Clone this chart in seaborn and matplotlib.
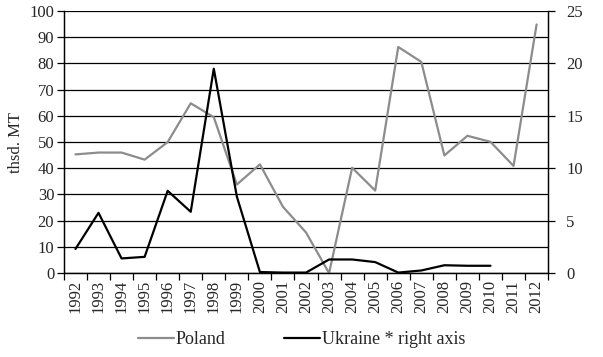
import numpy as np
import pandas as pd
import seaborn as sns
import matplotlib
matplotlib.use("Agg")
import matplotlib.pyplot as plt

years = [str(y) for y in range(1992, 2013)]
poland = [45.3, 46.0, 46.0, 43.3, 50.0, 64.8, 59.5, 33.8, 41.5, 25.3, 15.5, 0.0,
          40.2, 31.5, 86.3, 80.6, 44.9, 52.4, 50.1, 40.9, 94.9]
ukraine = [2.3, 5.75, 1.4, 1.55, 7.85, 5.85, 19.5, 7.3, 0.1, 0.05, 0.05, 1.3,
           1.3, 1.05, 0.05, 0.25, 0.75, 0.7, 0.7, np.nan, np.nan]

sns.set_style("white")
plt.rcParams['font.family'] = ['Liberation Serif', 'DejaVu Serif']

df = pd.DataFrame({"pos": np.arange(len(years)), "Poland": poland, "Ukraine": ukraine})

fig = plt.figure(figsize=(6.03, 3.57), dpi=100)
ax = fig.add_axes([0.106, 0.235, 0.803, 0.734])
ax2 = ax.twinx()

# grid first so lines sit on top
ax.set_ylim(0, 100)
ax.set_yticks(range(0, 101, 10))
ax.yaxis.grid(True, color="black", linewidth=0.9)
ax.set_axisbelow(True)

sns.lineplot(data=df, x="pos", y="Poland", ax=ax, color="#8c8c8c", linewidth=1.6, label="Poland", legend=False)
sns.lineplot(data=df, x="pos", y="Ukraine", ax=ax2, color="black", linewidth=1.6, label="Ukraine * right axis", legend=False)

ax2.set_ylim(0, 25)
ax2.set_yticks(range(0, 26, 5))

ax.set_xlim(-0.5, len(years) - 0.5)
ax.set_xticks(range(len(years)))
ax.set_xticklabels(years, rotation=90)
ax.set_xticks(np.arange(-0.5, len(years), 1), minor=True)
ax.tick_params(axis="x", which="major", bottom=True, length=0, labelsize=12, pad=5)
ax.tick_params(axis="x", which="minor", bottom=True, length=5, width=0.9, color="black", direction="out")
ax.tick_params(axis="y", left=True, length=5, width=0.9, color="black", direction="out", labelsize=12, pad=2)
ax2.tick_params(axis="y", right=True, length=5, width=0.9, color="black", direction="out", labelsize=12, pad=8)

ax.set_xlabel("")
ax.set_ylabel("thsd. MT", fontsize=12)
ax2.set_ylabel("")

for a in (ax, ax2):
    a.spines["top"].set_visible(False)
    for s in ("left", "right", "bottom"):
        a.spines[s].set_color("black")
        a.spines[s].set_linewidth(0.9)

h1, l1 = ax.get_legend_handles_labels()
h2, l2 = ax2.get_legend_handles_labels()
fig.legend(h1 + h2, l1 + l2, loc="center", bbox_to_anchor=(0.5, 0.048), ncol=2, frameon=False,
           fontsize=13, handlelength=2.0, handletextpad=0.1, columnspacing=3.2)

fig.savefig("out.png", dpi=100)
